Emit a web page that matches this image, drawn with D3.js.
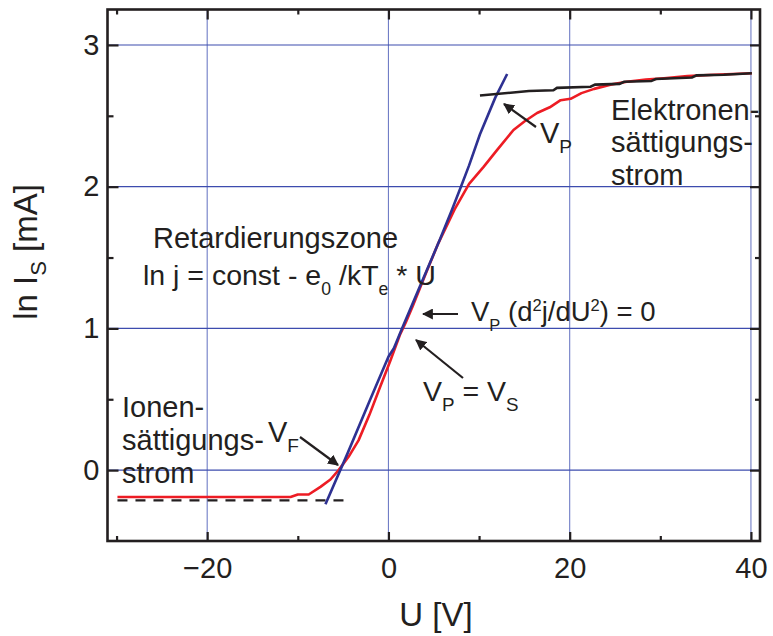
<!DOCTYPE html>
<html><head><meta charset="utf-8">
<script src="https://cdn.jsdelivr.net/npm/d3@7"></script>
<style>
body{margin:0;background:#fff}
svg{display:block}
text{font-family:"Liberation Sans",Arial,Helvetica,sans-serif;fill:#231f20}
</style>
</head><body>
<svg id="c" width="773" height="636"></svg>
<script>
// ---------- data ----------
const xTicks = [-20, 0, 20, 40];
const xMinorTicks = [-30, -10, 10, 30];
const yTicks = [0, 1, 2, 3];
const yMinorTicks = [0.5, 1.5, 2.5];

// measured probe characteristic (red)
const measuredU   = [-29.9,-10.8,-10.0,-8.8,-7.5,-6.4,-5.5,-4.4,-3.3,-2.1,-0.9,0.2,1.3,1.9,2.7,4.2,5.5,7.3,8.9,10.5,12.0,13.8,15.0,16.4,17.8,19.0,20.1,21.3,22.7,24.5,26.3,28.4,30.4,33.0,35.9,38.0,40.1];
const measuredLnI = [-0.19,-0.19,-0.172,-0.172,-0.118,-0.066,0.0,0.094,0.21,0.39,0.59,0.77,0.96,1.04,1.16,1.40,1.60,1.84,2.02,2.14,2.26,2.40,2.46,2.52,2.56,2.61,2.62,2.66,2.69,2.72,2.74,2.755,2.765,2.78,2.79,2.795,2.80];

// fit of retardation zone (blue)
const fitU   = [-6.95,-4.5,-2.0,0.0,0.6,1.5,3.5,5.7,7.0,8.0,8.9,10.1,11.8,13.1];
const fitLnI = [-0.24,0.12,0.50,0.80,0.86,1.0,1.30,1.63,1.835,2.0,2.15,2.37,2.63,2.795];

// electron saturation fit (black)
const satU   = [10.1,15.5,18.2,18.6,22.3,22.8,25.5,26.0,29.0,29.5,33.5,34.0,37.0,40.1];
const satLnI = [2.643,2.675,2.68,2.697,2.705,2.72,2.725,2.74,2.745,2.76,2.77,2.785,2.79,2.80];

// ion saturation level (dashed)
const ionU   = [-29.9, -4.9];
const ionLnI = [-0.213, -0.213];

// ---------- chart ----------
const svg = d3.select("#c");
const x = d3.scaleLinear().domain([-31, 41]).range([107.5, 760]);
const y = d3.scaleLinear().domain([-0.5, 3.25]).range([541, 9.5]);
const ink = "#231f20";

// grid
svg.append("g").selectAll("line").data(xTicks).join("line")
  .attr("x1", d => x(d)).attr("x2", d => x(d))
  .attr("y1", y(3.25)).attr("y2", y(-0.5))
  .attr("stroke", "#6f7cc6").attr("stroke-width", 1.1);
svg.append("g").selectAll("line").data(yTicks).join("line")
  .attr("x1", x(-31)).attr("x2", x(41))
  .attr("y1", d => y(d)).attr("y2", d => y(d))
  .attr("stroke", "#3d4cae").attr("stroke-width", 1.1);

const line = d3.line().x(d => x(d[0])).y(d => y(d[1]));
const zip = (a, b) => a.map((v, i) => [v, b[i]]);

svg.append("path").datum(zip(ionU, ionLnI)).attr("d", line)
  .attr("fill", "none").attr("stroke", ink).attr("stroke-width", 2.2)
  .attr("stroke-dasharray", "10,8");
svg.append("path").datum(zip(measuredU, measuredLnI)).attr("d", line)
  .attr("fill", "none").attr("stroke", "#ed1c24").attr("stroke-width", 2.6)
  .attr("stroke-linejoin", "round");
svg.append("path").datum(zip(fitU, fitLnI)).attr("d", line)
  .attr("fill", "none").attr("stroke", "#2e3192").attr("stroke-width", 2.6)
  .attr("stroke-linejoin", "round");
svg.append("path").datum(zip(satU, satLnI)).attr("d", line)
  .attr("fill", "none").attr("stroke", ink).attr("stroke-width", 2.6);

// axes with inward ticks
function styleAxis(g) {
  g.select(".domain").remove();
  g.selectAll(".tick line").attr("stroke", ink).attr("stroke-width", 2.2);
  g.selectAll(".tick text").attr("font-size", 29).attr("fill", ink)
    .attr("font-family", '"Liberation Sans",Arial,sans-serif');
}
const fmt = d3.format("");
svg.append("g").attr("transform", `translate(0,${y(-0.5)})`)
  .call(d3.axisBottom(x).tickValues(xTicks).tickSize(-9).tickPadding(16).tickFormat(d => fmt(d)))
  .call(styleAxis);
svg.append("g").attr("transform", `translate(0,${y(-0.5)})`)
  .call(d3.axisBottom(x).tickValues(xMinorTicks).tickSize(-5).tickFormat(""))
  .call(styleAxis);
svg.append("g").attr("transform", `translate(0,${y(3.25)})`)
  .call(d3.axisTop(x).tickValues(xTicks).tickSize(-10).tickFormat(""))
  .call(styleAxis);
svg.append("g").attr("transform", `translate(0,${y(3.25)})`)
  .call(d3.axisTop(x).tickValues(xMinorTicks).tickSize(-5).tickFormat(""))
  .call(styleAxis);
svg.append("g").attr("transform", `translate(${x(-31)},0)`)
  .call(d3.axisLeft(y).tickValues(yTicks).tickSize(-11).tickPadding(8).tickFormat(d => fmt(d)))
  .call(styleAxis);
svg.append("g").attr("transform", `translate(${x(-31)},0)`)
  .call(d3.axisLeft(y).tickValues(yMinorTicks).tickSize(-6).tickFormat(""))
  .call(styleAxis);
svg.append("g").attr("transform", `translate(${x(41)},0)`)
  .call(d3.axisRight(y).tickValues(yTicks).tickSize(-10).tickFormat(""))
  .call(styleAxis);
svg.append("g").attr("transform", `translate(${x(41)},0)`)
  .call(d3.axisRight(y).tickValues(yMinorTicks).tickSize(-5).tickFormat(""))
  .call(styleAxis);

// frame
svg.append("rect").attr("x", x(-31)).attr("y", y(3.25))
  .attr("width", x(41) - x(-31)).attr("height", y(-0.5) - y(3.25))
  .attr("fill", "none").attr("stroke", ink).attr("stroke-width", 2.6);

// axis titles
svg.append("text").attr("x", 436).attr("y", 626).attr("text-anchor", "middle")
  .attr("font-size", 33).text("U [V]");
const yt = svg.append("text").attr("transform", "translate(37,252) rotate(-90)")
  .attr("text-anchor", "middle").attr("font-size", 33);
yt.append("tspan").text("ln I");
yt.append("tspan").attr("font-size", 22).attr("dy", 9).text("S");
yt.append("tspan").attr("dy", -9).text(" [mA]");

// rich text helper
function rich(x0, base, parts, size, subScale) {
  const k = subScale || 0.66;
  const t = svg.append("text").attr("x", x0).attr("y", base).attr("font-size", size);
  parts.forEach(p => {
    const [s, kind] = p;
    const ts = t.append("tspan").text(s);
    if (kind === "sub") ts.attr("font-size", size * k).attr("y", base + size * 0.36);
    else if (kind === "sup") ts.attr("font-size", size * k).attr("y", base - size * 0.36);
    else ts.attr("y", base);
  });
  return t;
}

// annotations
rich(153, 248, [["Retardierungszone"]], 29);
rich(143, 285, [["ln j = const - e"], ["0", "sub"], [" /kT"], ["e", "sub"], [" * U"]], 28.5, 0.62);
rich(611, 120, [["Elektronen-"]], 29);
rich(611, 152, [["sättigungs-"]], 29);
rich(611, 185, [["strom"]], 29);
rich(540, 143, [["V"], ["P", "sub"]], 29);
rich(471, 321, [["V"], ["P", "sub"], [" (d"], ["2", "sup"], ["j/dU"], ["2", "sup"], [") = 0"]], 27.5, 0.6);
rich(423, 401, [["V"], ["P", "sub"], [" = V"], ["S", "sub"]], 28.5);
rich(122, 417, [["Ionen-"]], 29);
rich(122, 450, [["sättigungs-"]], 29);
rich(122, 483, [["strom"]], 29);
rich(268, 442, [["V"], ["F", "sub"]], 29);

// arrows
const defs = svg.append("defs");
defs.append("marker").attr("id", "ah").attr("viewBox", "0 0 10 10")
  .attr("refX", 9).attr("refY", 5).attr("markerWidth", 5).attr("markerHeight", 5)
  .attr("orient", "auto").attr("markerUnits", "strokeWidth")
  .append("path").attr("d", "M0,0 L10,5 L0,10 z").attr("fill", ink);
const arrows = [
  [536, 127, 504, 104],
  [458, 314, 423, 314],
  [463, 378, 416, 340],
  [300, 437, 338, 465]
];
svg.append("g").selectAll("line").data(arrows).join("line")
  .attr("x1", d => d[0]).attr("y1", d => d[1]).attr("x2", d => d[2]).attr("y2", d => d[3])
  .attr("stroke", ink).attr("stroke-width", 2.2).attr("marker-end", "url(#ah)");
</script>
</body></html>
